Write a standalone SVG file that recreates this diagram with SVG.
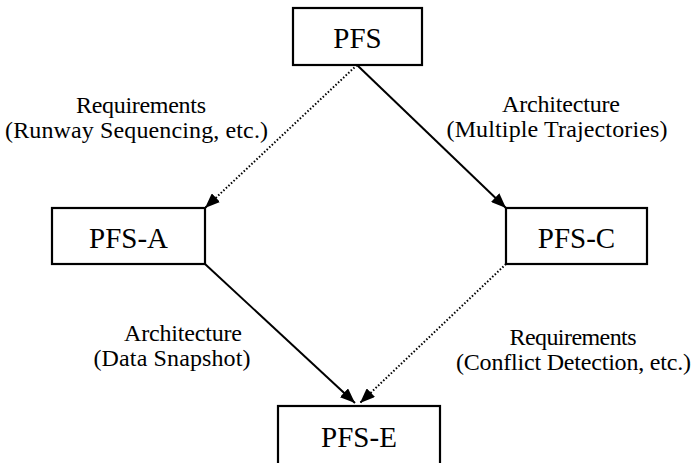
<svg xmlns="http://www.w3.org/2000/svg" width="693" height="463" viewBox="0 0 693 463">
<style>
.box{fill:#fff;stroke:#000;stroke-width:2.2}
.nt{font-family:"Liberation Serif","Times New Roman",serif;font-size:29px;text-anchor:middle;fill:#000}
.lt{font-family:"Liberation Serif","Times New Roman",serif;font-size:24px;text-anchor:middle;fill:#000}
.solid{fill:none;stroke:#000;stroke-width:2}
.dot{fill:none;stroke:#000;stroke-width:2;stroke-dasharray:1.5 2}
</style>
<defs>
<marker id="ah" markerUnits="userSpaceOnUse" markerWidth="16" markerHeight="12" refX="15" refY="6" orient="auto">
<path d="M0,0 L15,6 L0,12 z" fill="#000"/>
</marker>
</defs>
<rect width="693" height="463" fill="#fff"/>
<g id="connectors">
<line class="dot" x1="357" y1="65" x2="205" y2="208" marker-end="url(#ah)"/>
<line class="solid" x1="357" y1="65" x2="506" y2="208" marker-end="url(#ah)"/>
<line class="solid" x1="205" y1="264" x2="355" y2="403" marker-end="url(#ah)"/>
<line class="dot" x1="506" y1="264" x2="360" y2="403" marker-end="url(#ah)"/>
</g>
<g id="labels">
<text class="lt" x="141" y="113" textLength="130">Requirements</text>
<text class="lt" x="136.5" y="138" textLength="263">(Runway Sequencing, etc.)</text>
<text class="lt" x="561" y="112" textLength="118">Architecture</text>
<text class="lt" x="557" y="137" textLength="221">(Multiple Trajectories)</text>
<text class="lt" x="183" y="341" textLength="118">Architecture</text>
<text class="lt" x="172" y="366" textLength="157">(Data Snapshot)</text>
<text class="lt" x="573" y="345" textLength="127">Requirements</text>
<text class="lt" x="573.5" y="370" textLength="235">(Conflict Detection, etc.)</text>
</g>
<g id="PFS">
<rect class="box" x="293" y="8" width="129" height="57"/>
<text class="nt" x="357.5" y="48">PFS</text>
</g>
<g id="PFS-A">
<rect class="box" x="52" y="208" width="153" height="56"/>
<text class="nt" x="128.5" y="248">PFS-A</text>
</g>
<g id="PFS-C">
<rect class="box" x="506" y="208" width="141" height="56"/>
<text class="nt" x="576.5" y="248">PFS-C</text>
</g>
<g id="PFS-E">
<rect class="box" x="278" y="406" width="162" height="60"/>
<text class="nt" x="359" y="447">PFS-E</text>
</g>
</svg>
